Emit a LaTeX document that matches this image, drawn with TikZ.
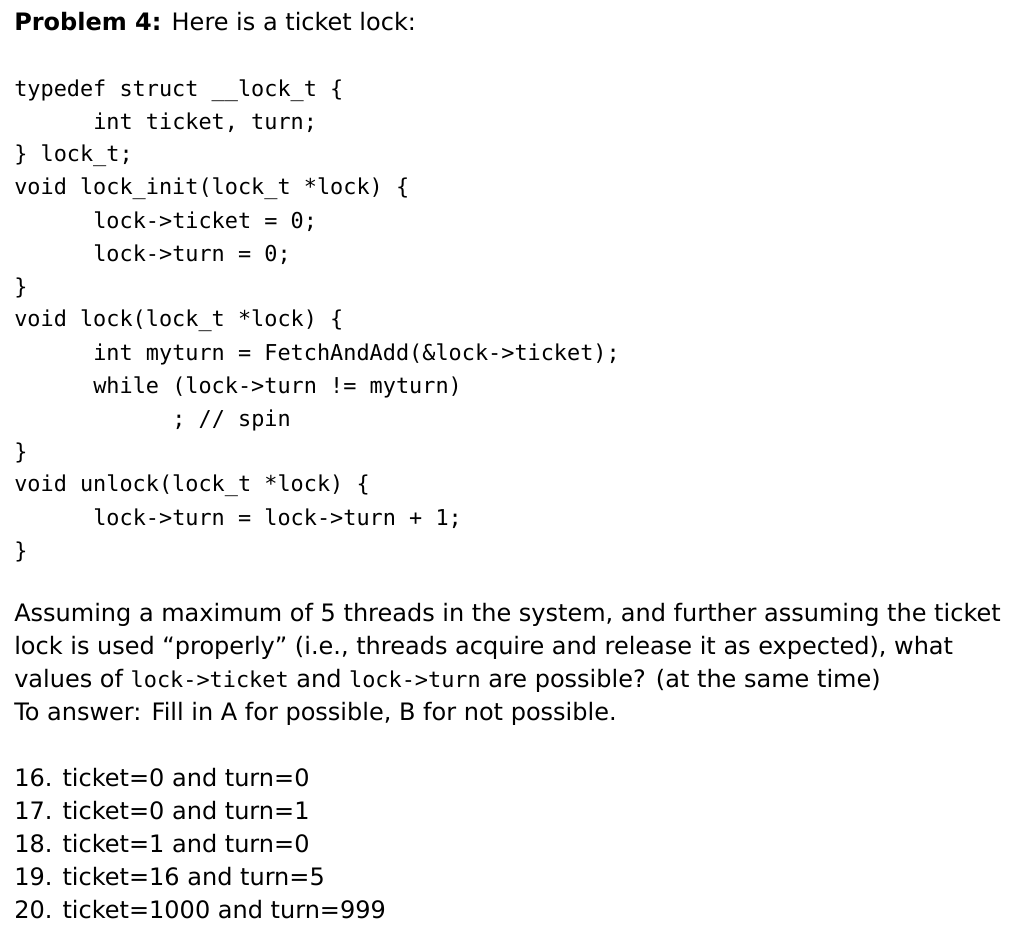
\documentclass[tikz,border=0pt]{standalone}
\usepackage{fontspec}
\setmainfont{DejaVu Sans}
\setmonofont{DejaVu Sans Mono}
\begin{document}
\begin{tikzpicture}[x=0.75pt,y=-0.75pt,
  cl/.style={anchor=west,inner sep=0pt,font=\fontsize{16.4}{18}\ttfamily},
  tl/.style={anchor=west,inner sep=0pt,font=\fontsize{18}{20}\selectfont}]
\fill[white] (0,0) rectangle (1024,934);
\node[tl] (t) at (14,22) {\textbf{Problem 4:} Here is a ticket lock:};
\node[cl] (c1) at (14,91) {typedef struct \_\_lock\_t \{};
\node[cl] (c2) at (93,123) {int ticket, turn;};
\node[cl] (c3) at (14,156) {\} lock\_t;};
\node[cl] (c4) at (14,189) {void lock\_init(lock\_t *lock) \{};
\node[cl] (c5) at (93,222) {lock->ticket = 0;};
\node[cl] (c6) at (93,255) {lock->turn = 0;};
\node[cl] (c7) at (14,288) {\}};
\node[cl] (c8) at (14,321) {void lock(lock\_t *lock) \{};
\node[cl] (c9) at (93,354) {int myturn = FetchAndAdd(\&lock->ticket);};
\node[cl] (c10) at (93,387) {while (lock->turn != myturn)};
\node[cl] (c11) at (172,420) {; // spin};
\node[cl] (c12) at (14,453) {\}};
\node[cl] (c13) at (14,486) {void unlock(lock\_t *lock) \{};
\node[cl] (c14) at (93,519) {lock->turn = lock->turn + 1;};
\node[cl] (c15) at (14,552) {\}};
\node[tl] (p1) at (14,615) {Assuming a maximum of 5 threads in the system, and further assuming the ticket};
\node[tl] (p2) at (14,648) {lock is used “properly” (i.e., threads acquire and release it as expected), what};
\node[tl] (p3) at (14,681) {values of {\fontsize{16.4}{18}\ttfamily lock->ticket} and {\fontsize{16.4}{18}\ttfamily lock->turn} are possible? (at the same time)};
\node[tl] (p4) at (14,714) {To answer: Fill in A for possible, B for not possible.};
\node[tl] (q1) at (14,778) {16. ticket=0 and turn=0};
\node[tl] (q2) at (14,811) {17. ticket=0 and turn=1};
\node[tl] (q3) at (14,844) {18. ticket=1 and turn=0};
\node[tl] (q4) at (14,877) {19. ticket=16 and turn=5};
\node[tl] (q5) at (14,910) {20. ticket=1000 and turn=999};
\end{tikzpicture}
\end{document}
